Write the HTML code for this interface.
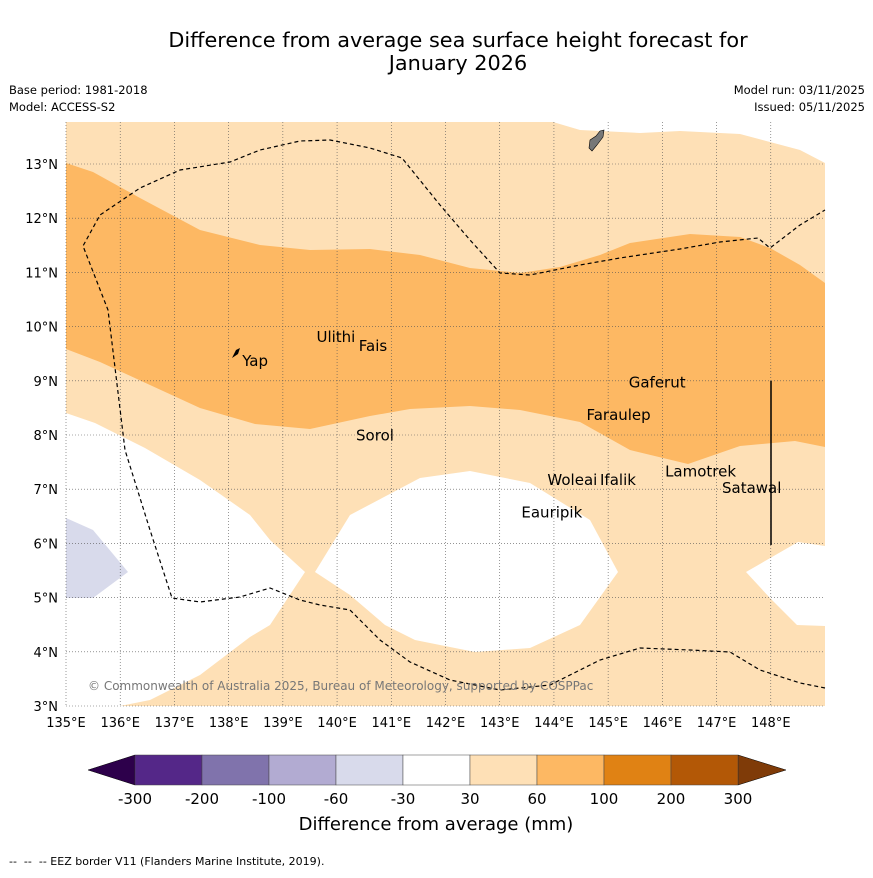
<!DOCTYPE html>
<html><head><meta charset="utf-8"><style>
body{margin:0;background:#fff;font-family:"Liberation Sans","DejaVu Sans",sans-serif;}
svg text{font-family:"DejaVu Sans","Liberation Sans",sans-serif;}
</style></head><body>
<svg id="chart" width="873" height="873" viewBox="0 0 873 873" xmlns="http://www.w3.org/2000/svg">
<rect x="0" y="0" width="873" height="873" fill="#fff"/>
<text x="458" y="47" font-size="20.8" text-anchor="middle">Difference from average sea surface height forecast for</text>
<text x="458" y="70" font-size="20.8" text-anchor="middle">January 2026</text>
<text x="9" y="94" font-size="11.5">Base period: 1981-2018</text>
<text x="9" y="111" font-size="11.5">Model: ACCESS-S2</text>
<text x="865" y="94" font-size="11.5" text-anchor="end">Model run: 03/11/2025</text>
<text x="865" y="111" font-size="11.5" text-anchor="end">Issued: 05/11/2025</text>
<g id="map"></g>
<g id="axes"></g>
<g id="cbar"></g>
<text x="436" y="830" font-size="18" text-anchor="middle">Difference from average (mm)</text>
<text x="9" y="865" font-size="11" xml:space="preserve">--  --  -- EEZ border V11 (Flanders Marine Institute, 2019).</text>
</svg>
<script>
const lonTicks=[135,136,137,138,139,140,141,142,143,144,145,146,147,148];
const latTicks=[3,4,5,6,7,8,9,10,11,12,13];
const cbBounds=[-300,-200,-100,-60,-30,30,60,100,200,300];
const cbColors=["#542788","#8073ac","#b2abd2","#d8daeb","#ffffff","#fee0b6","#fdb863","#e08214","#b35806"];
const places=[["Ulithi",139.62,9.72],["Fais",140.4,9.55],["Yap",138.25,9.27],["Gaferut",145.38,8.88],["Faraulep",144.6,8.28],["Sorol",140.35,7.9],["Woleai",143.88,7.08],["Ifalik",144.85,7.08],["Lamotrek",146.05,7.23],["Satawal",147.1,6.93],["Eauripik",143.4,6.48]];
const NS="http://www.w3.org/2000/svg";
const X0=66,X1=825,Y0=122,Y1=706;
const px=lon=>X0+(lon-135)*(X1-X0)/14;
const py=lat=>706-(lat-3)*54.2;
function mk(tag,attrs,parent){const e=document.createElementNS(NS,tag);for(const k in attrs)e.setAttribute(k,attrs[k]);parent.appendChild(e);return e;}
const map=document.getElementById('map');
mk('rect',{x:X0,y:Y0,width:X1-X0,height:Y1-Y0,fill:'#fee0b6'},map);
const polys=[
 ["top-right-white","#ffffff","553,122 580,130 640,133 680,131 740,134 800,150 825,163 825,122"],
 ["medium-band","#fdb863","66,163 93,172 140,198 200,230 260,245 310,250 370,249 420,255 470,268 520,273 560,267 600,255 630,243 690,234 740,237 770,248 800,265 825,283 825,447 795,441 740,446 688,464 630,450 580,422 520,410 470,406 410,409 370,416 310,429 255,424 200,408 150,385 100,362 66,349"],
 ["left-white","#ffffff","66,413 95,423 145,448 200,480 250,515 270,540 305,572 270,625 250,637 200,675 150,700 120,706 66,706"],
 ["purple-patch","#d8daeb","66,518 93,530 128,572 93,598 66,598"],
 ["central-white","#ffffff","315,572 350,515 420,478 470,471 530,483 590,520 618,572 580,625 530,648 475,652 415,640 385,625 350,595"],
 ["right-white","#ffffff","746,572 798,542 825,546 825,626 797,625 770,598"]];
polys.forEach(p=>{const e=mk('polygon',{points:p[2],fill:p[1]},map);

});
lonTicks.forEach(l=>{const e=mk('line',{x1:px(l),x2:px(l),y1:Y0,y2:Y1,stroke:'#555','stroke-width':0.6,'stroke-dasharray':'1,2'},map);

});
latTicks.forEach(l=>{const e=mk('line',{x1:X0,x2:X1,y1:py(l),y2:py(l),stroke:'#555','stroke-width':0.6,'stroke-dasharray':'1,2'},map);

});
const eez=mk('path',{d:"M825,688 L800,683 760,670 730,652 690,650 640,648 600,660 550,685 500,690 450,680 410,662 380,640 350,610 320,605 300,600 270,588 240,597 200,602 172,598 150,530 125,450 108,310 83,246 100,215 140,188 180,170 230,162 260,150 300,141 330,140 370,148 402,158 440,205 470,240 500,273 530,275 580,265 620,258 680,249 720,242 758,238 770,248 800,225 825,210",fill:'none',stroke:'#000','stroke-width':1.2,'stroke-dasharray':'4,3'},map);


const vl=mk('line',{x1:771,x2:771,y1:381,y2:545,stroke:'#000','stroke-width':1.5},map);


const guam=mk('path',{d:"M590,140 L596,136 600,131 604,130 603,137 597,145 592,151 589,148 Z",fill:'#777',stroke:'#000','stroke-width':0.6},map);


const yap=mk('path',{d:"M232,358 L236,350 240,348 238,354 Z",fill:'#000'},map);


places.forEach(p=>{const t=mk('text',{x:px(p[1]),y:py(p[2]),'font-size':15},map);t.textContent=p[0];

});
const cp=mk('text',{x:88,y:690,'font-size':12,fill:'#777'},map);cp.textContent="© Commonwealth of Australia 2025, Bureau of Meteorology, supported by COSPPac";


const ax=document.getElementById('axes');
lonTicks.forEach(l=>{const t=mk('text',{x:px(l),y:727,'font-size':13,'text-anchor':'middle'},ax);t.textContent=l+"°E";

});
latTicks.forEach(l=>{const t=mk('text',{x:58,y:py(l)+5,'font-size':13,'text-anchor':'end'},ax);t.textContent=l+"°N";

});
const cb=document.getElementById('cbar');
const cx=i=>135+i*67.0;
const a1=mk('polygon',{points:"88,770 135,755 135,785",fill:'#2d004b',stroke:'#000','stroke-width':0.5},cb);


const a2=mk('polygon',{points:`786,770 ${cx(9)},755 ${cx(9)},785`,fill:'#7f3b08',stroke:'#000','stroke-width':0.5},cb);


cbColors.forEach((c,i)=>{const r=mk('rect',{x:cx(i),y:755,width:67,height:30,fill:c,stroke:'#444','stroke-width':0.5},cb);

});
cbBounds.forEach((b,i)=>{const t=mk('text',{x:cx(i),y:804,'font-size':15,'text-anchor':'middle'},cb);t.textContent=b;

});
</script>
</body></html>
